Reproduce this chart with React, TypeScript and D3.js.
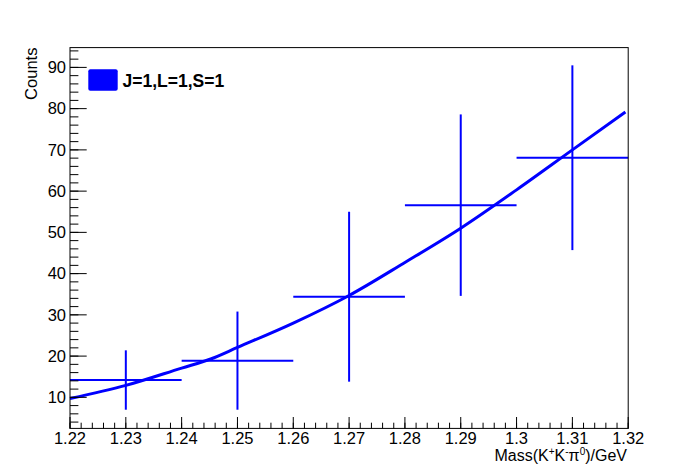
import React from "react";
import * as d3 from "d3";

const binCenters = [1.23, 1.25, 1.27, 1.29, 1.31];
const binHalfWidth = 0.01;
const counts = [14.2, 18.9, 34.4, 56.6, 68.1];
const errors = [7.2, 11.9, 20.6, 22.0, 22.4];

const fitX = [1.22, 1.23, 1.24, 1.2452, 1.25, 1.26, 1.27, 1.28, 1.29, 1.30, 1.31, 1.3195];
const fitY = [9.7, 12.9, 17.1, 19.3, 22.1, 28.0, 34.7, 42.7, 51.0, 60.3, 70.0, 79.2];

const xTicks = [1.22, 1.23, 1.24, 1.25, 1.26, 1.27, 1.28, 1.29, 1.3, 1.31, 1.32];
const yTicks = [10, 20, 30, 40, 50, 60, 70, 80, 90];
const legendLabel = "J=1,L=1,S=1";

const W = 698;
const H = 476;
const L = 70, R = 628.2, T = 47.6, B = 428.4;
const FONT = "'Liberation Sans', Arial, Helvetica, sans-serif";
const BLUE = "#0000ff";

export default function App() {
  const x = d3.scaleLinear().domain([1.22, 1.32]).range([L, R]);
  const y = d3.scaleLinear().domain([2.47, 94.8]).range([B, T]);

  const xMinor = d3.range(0, 51).map((i) => 1.22 + i * 0.002);
  const yMinor = d3.range(4, 95, 2);

  const line = d3
    .line<number>()
    .x((_, i) => x(fitX[i]))
    .y((d) => y(d))
    .curve(d3.curveMonotoneX);

  return (
    <svg
      width={W}
      height={H}
      style={{ position: "absolute", left: 0, top: 0, background: "#fff" }}
      fontFamily={FONT}
    >
      <rect x={0} y={0} width={W} height={H} fill="#fff" />
      {/* fit curve */}
      <path d={line(fitY) || ""} fill="none" stroke={BLUE} strokeWidth={3} />
      {/* data points */}
      {binCenters.map((c, i) => (
        <g key={i} stroke={BLUE} strokeWidth={2}>
          <line x1={x(c - binHalfWidth)} x2={x(c + binHalfWidth)} y1={y(counts[i])} y2={y(counts[i])} />
          <line x1={x(c)} x2={x(c)} y1={y(counts[i] - errors[i])} y2={y(counts[i] + errors[i])} />
        </g>
      ))}
      {/* frame */}
      <rect x={L} y={T} width={R - L} height={B - T} fill="none" stroke="#000" strokeWidth={1} />
      {/* x ticks */}
      {xMinor.map((v, i) => (
        <line key={"xm" + i} x1={x(v)} x2={x(v)} y1={B} y2={B - 5.7} stroke="#000" strokeWidth={1} />
      ))}
      {xTicks.map((v, i) => (
        <g key={"xt" + i}>
          <line x1={x(v)} x2={x(v)} y1={B} y2={B - 11.4} stroke="#000" strokeWidth={1} />
          <text x={x(v)} y={444} textAnchor="middle" fontSize={16.5} fill="#000">
            {d3.format("")(+v.toFixed(2))}
          </text>
        </g>
      ))}
      {/* y ticks */}
      {yMinor.map((v, i) => (
        <line key={"ym" + i} x1={L} x2={L + 8.4} y1={y(v)} y2={y(v)} stroke="#000" strokeWidth={1} />
      ))}
      {yTicks.map((v, i) => (
        <g key={"yt" + i}>
          <line x1={L} x2={L + 16.7} y1={y(v)} y2={y(v)} stroke="#000" strokeWidth={1} />
          <text x={66} y={y(v)} dy="0.35em" textAnchor="end" fontSize={16.5} fill="#000">
            {v}
          </text>
        </g>
      ))}
      {/* axis titles */}
      <text
        transform={`translate(37,${T}) rotate(-90)`}
        textAnchor="end"
        fontSize={16.5}
        fill="#000"
      >
        Counts
      </text>
      <text x={627} y={461} textAnchor="end" fontSize={16} fill="#000">
        Mass(K
        <tspan fontSize={10} dy={-6}>+</tspan>
        <tspan dy={6}>K</tspan>
        <tspan fontSize={10} dy={-6}>-</tspan>
        <tspan dy={6}>π</tspan>
        <tspan fontSize={10} dy={-6}>0</tspan>
        <tspan dy={6}>)/GeV</tspan>
      </text>
      {/* legend */}
      <rect x={88.3} y={69.3} width={29.4} height={21.4} rx={2} ry={2} fill={BLUE} />
      <text x={122.5} y={86.7} fontSize={17.5} fontWeight="bold" fill="#000">
        {legendLabel}
      </text>
    </svg>
  );
}
